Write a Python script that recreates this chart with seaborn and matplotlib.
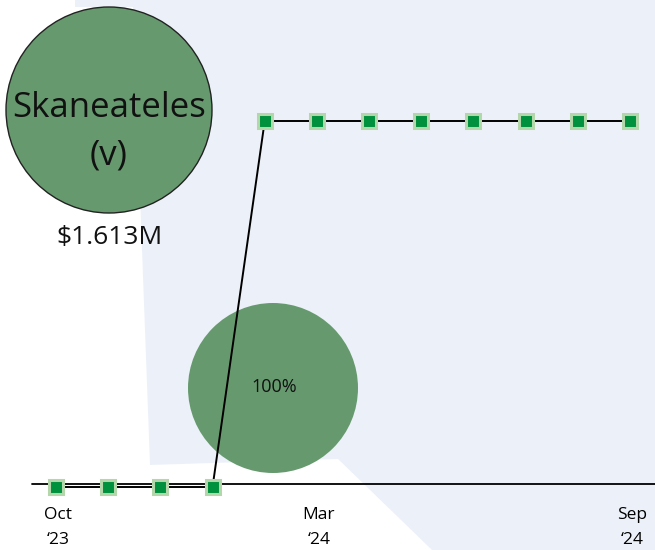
import matplotlib
matplotlib.use("Agg")
import matplotlib.pyplot as plt
import seaborn as sns
import pandas as pd
from matplotlib.patches import Circle, Polygon

# ---- data ----
months = ["Oct", "Nov", "Dec", "Jan", "Feb", "Mar", "Apr", "May", "Jun", "Jul", "Aug", "Sep"]
years = ["\u201823", "\u201823", "\u201823", "\u201824", "\u201824", "\u201824",
         "\u201824", "\u201824", "\u201824", "\u201824", "\u201824", "\u201824"]
values = [0, 0, 0, 0, 1.613, 1.613, 1.613, 1.613, 1.613, 1.613, 1.613, 1.613]
tick_idx = [0, 5, 11]
place_name = "Skaneateles\n(v)"
total_label = "$1.613M"
share_label = "100%"

sns.set_theme(style="white")
plt.rcParams["font.family"] = ["Open Sans", "DejaVu Sans"]

W, H = 655, 550
fig = plt.figure(figsize=(W / 100, H / 100), dpi=100)

# background / decoration axes in pixel units
bg = fig.add_axes([0, 0, 1, 1])
bg.set_xlim(0, W)
bg.set_ylim(H, 0)
bg.axis("off")
bg.add_patch(Polygon([(75, 0), (W, 0), (W, H), (432, H), (338, 459), (150, 465),
                      (133, 7), (75, 7)], closed=True, facecolor="#ecf1f9",
                     edgecolor="none", zorder=0))
bg.plot([32, W], [484, 484], color="black", lw=1.3, zorder=1)

# data axes: map index -> pixel, value -> pixel
x0, dx = 56, (630 - 56) / 11
y0, ytop = 487, 121
vmax = 1.613
scale = vmax / (y0 - ytop)
ax = fig.add_axes([0, 0, 1, 1], facecolor="none")
ax.set_xlim(-x0 / dx, (W - x0) / dx)
ax.set_ylim(-(H - y0) * scale, y0 * scale)
ax.axis("off")

df = pd.DataFrame({"i": range(len(values)), "v": values})
sns.lineplot(data=df, x="i", y="v", ax=ax, color="black", lw=1.4,
             marker="s", markersize=10.5, markerfacecolor="#00913f",
             markeredgecolor="#b4d6ab", markeredgewidth=2.2, zorder=5)

for i in tick_idx:
    ax.text(i + 0.04, -(515 - y0) * scale, months[i], ha="center", va="center",
            fontsize=12.5, color="black")
    ax.text(i + 0.04, -(540 - y0) * scale, years[i], ha="center", va="center",
            fontsize=12.5, color="black")

# circles and labels (pixel units)
bg.add_patch(Circle((109, 110), 103, facecolor="#669a6e", edgecolor="#222222",
                    lw=1.0, zorder=2))
bg.text(109, 108, "Skaneateles", ha="center", va="center", fontsize=25,
        color="#111111", zorder=3)
bg.text(109, 155, "(v)", ha="center", va="center", fontsize=25,
        color="#111111", zorder=3)
bg.text(109, 237, total_label, ha="center", va="center", fontsize=19,
        color="#111111", zorder=3)
bg.add_patch(Circle((273, 388), 85, facecolor="#669a6e", edgecolor="none", zorder=2))
bg.text(274, 387, share_label, ha="center", va="center", fontsize=13,
        color="#111111", zorder=3)

fig.savefig("out.png", dpi=100)
